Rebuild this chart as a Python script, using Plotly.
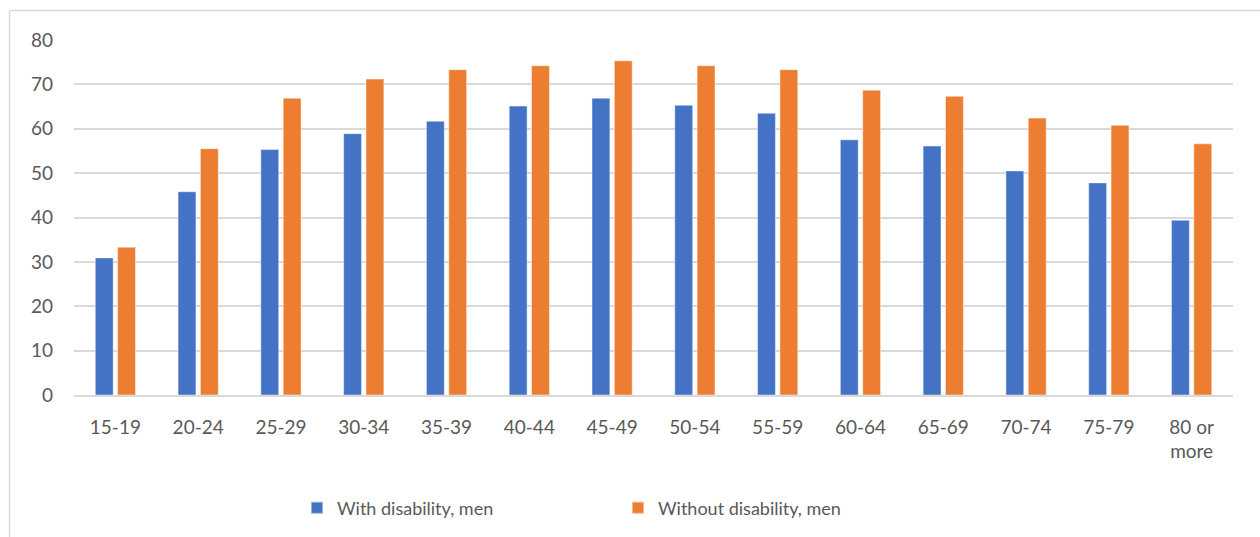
import plotly.graph_objects as go

# Age groups and employment rates (%) for men, by disability status
age_groups = ["15-19", "20-24", "25-29", "30-34", "35-39", "40-44", "45-49",
              "50-54", "55-59", "60-64", "65-69", "70-74", "75-79", "80 or more"]
age_labels = ["15-19", "20-24", "25-29", "30-34", "35-39", "40-44", "45-49",
              "50-54", "55-59", "60-64", "65-69", "70-74", "75-79", "80 or<br>more"]
with_disability = [30.9, 45.8, 55.3, 58.9, 61.7, 65.1, 66.9,
                   65.3, 63.5, 57.5, 56.1, 50.5, 47.8, 39.4]
without_disability = [33.3, 55.5, 66.9, 71.2, 73.3, 74.2, 75.3,
                      74.2, 73.3, 68.7, 67.3, 62.4, 60.8, 56.6]
y_ticks = [0, 10, 20, 30, 40, 50, 60, 70, 80]

W, H = 1260, 537
ML, MR, MT, MB = 74, 27, 40, 141
plot_w = W - ML - MR
plot_h = H - MT - MB

BLUE = "#4472C4"
ORANGE = "#ED7D31"
TEXT = "#595959"
GRID = "#D9D9D9"
FONT = "Lato"


def px_x(px):
    return (px - ML) / plot_w


def px_y(py):
    return (H - MB - py) / plot_h


fig = go.Figure()
fig.add_trace(go.Bar(
    name="With disability, men", x=age_groups, y=with_disability,
    marker=dict(color=BLUE, line=dict(color="rgba(255,255,255,0.45)", width=1)),
))
fig.add_trace(go.Bar(
    name="Without disability, men", x=age_groups, y=without_disability,
    marker=dict(color=ORANGE, line=dict(color="rgba(255,255,255,0.45)", width=1)),
))

# chart frame: top and left edges only
fig.add_shape(type="line", xref="paper", yref="paper",
              x0=px_x(9.5), x1=px_x(1262), y0=px_y(10.5), y1=px_y(10.5),
              line=dict(color=GRID, width=1.5))
fig.add_shape(type="line", xref="paper", yref="paper",
              x0=px_x(9.5), x1=px_x(9.5), y0=px_y(10.5), y1=px_y(540),
              line=dict(color=GRID, width=1.5))

fig.update_layout(
    width=W, height=H,
    margin=dict(l=ML, r=MR, t=MT, b=MB),
    paper_bgcolor="white", plot_bgcolor="white",
    barmode="group", bargap=0.46, bargroupgap=0.2,
    font=dict(family=FONT, size=19, color=TEXT),
    showlegend=True,
    legend=dict(orientation="h", x=px_x(297), xanchor="left",
                y=px_y(508), yanchor="middle",
                font=dict(family=FONT, size=18, color=TEXT),
                itemwidth=30, entrywidth=276, entrywidthmode="pixels",
                tracegroupgap=0, itemsizing="constant",
                bgcolor="rgba(0,0,0,0)"),
    xaxis=dict(
        tickvals=age_groups, ticktext=age_labels,
        showgrid=False, showline=True, linecolor=GRID, linewidth=1.5,
        ticks="", ticklabelstandoff=14,
        tickfont=dict(family=FONT, size=19, color=TEXT),
    ),
    yaxis=dict(
        range=[0, 80], tickvals=y_ticks,
        showgrid=True, gridcolor=GRID, gridwidth=1.5,
        zeroline=False, showline=False, ticks="",
        ticklabelstandoff=20,
        tickfont=dict(family=FONT, size=19, color=TEXT),
    ),
)

fig.write_html("out.html")
